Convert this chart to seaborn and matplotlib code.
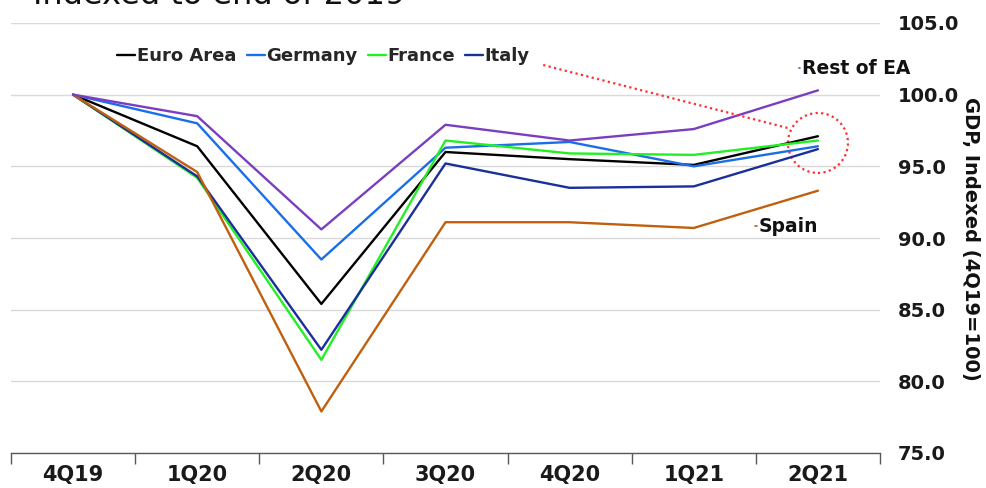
import pandas as pd
import numpy as np
import matplotlib
matplotlib.use("Agg")
import matplotlib.pyplot as plt
from matplotlib.patches import Ellipse
import seaborn as sns

# quarters on the x axis
quarters = ["4Q19", "1Q20", "2Q20", "3Q20", "4Q20", "1Q21", "2Q21"]

# GDP indexed to 4Q19 = 100
euro_area = [100.0, 96.4, 85.4, 96.0, 95.5, 95.1, 97.1]
germany = [100.0, 98.0, 88.5, 96.3, 96.7, 95.0, 96.4]
france = [100.0, 94.2, 81.5, 96.8, 95.9, 95.8, 96.8]
italy = [100.0, 94.3, 82.2, 95.2, 93.5, 93.6, 96.2]
spain = [100.0, 94.6, 77.9, 91.1, 91.1, 90.7, 93.3]
rest_of_ea = [100.0, 98.5, 90.6, 97.9, 96.8, 97.6, 100.3]

series = {
    "Euro Area": euro_area,
    "Germany": germany,
    "France": france,
    "Italy": italy,
    "Spain": spain,
    "Rest of EA": rest_of_ea,
}
colors = {
    "Euro Area": "#000000",
    "Germany": "#1a6ee8",
    "France": "#22f022",
    "Italy": "#1a2f9a",
    "Spain": "#c0600f",
    "Rest of EA": "#7a3fc0",
}

rows = []
for name, vals in series.items():
    for i, v in enumerate(vals):
        rows.append({"quarter": quarters[i], "pos": i, "series": name, "value": v})
df = pd.DataFrame(rows)

sns.set_theme(style="white")
plt.rcParams["font.family"] = ["DejaVu Sans"]

fig = plt.figure(figsize=(9.86, 4.88), dpi=100)
ax = fig.add_axes([11 / 986, 35 / 488, 869 / 986, 430 / 488])

sns.lineplot(data=df, x="pos", y="value", hue="series", palette=colors,
             hue_order=list(series.keys()), linewidth=1.7, ax=ax, legend=True)

ax.set_xlim(-0.5, len(quarters) - 0.5)
ax.set_ylim(75, 105)
ax.set_yticks(np.arange(75, 105.1, 5))
ax.set_yticklabels([f"{t:.1f}" for t in np.arange(75, 105.1, 5)])
ax.set_xticks(range(len(quarters)))
ax.set_xticklabels(quarters)
ax.set_xticks(np.arange(-0.5, len(quarters)), minor=True)

ax.yaxis.tick_right()
ax.yaxis.set_label_position("right")
ax.grid(axis="y", color="#d9d9d9", linewidth=1)
ax.set_axisbelow(True)

for s in ["left", "right", "top"]:
    ax.spines[s].set_visible(False)
ax.spines["bottom"].set_color("#595959")
ax.spines["bottom"].set_linewidth(1)

ax.tick_params(axis="x", which="major", bottom=True, length=0, pad=9, labelsize=15)
ax.tick_params(axis="x", which="minor", bottom=True, length=8, width=1,
               color="#595959", direction="out")
ax.tick_params(axis="y", length=0, pad=13, labelsize=14)
for lab in ax.get_xticklabels() + ax.get_yticklabels():
    lab.set_fontweight("bold")
    lab.set_color("#1a1a1a")

ax.set_xlabel("")
ax.set_ylabel("GDP, Indexed (4Q19=100)", fontsize=14, fontweight="bold",
              rotation=270, va="center", color="#111111")
ax.yaxis.set_label_coords(1.104, 0.498)

# legend only for the four main series
handles, labels = ax.get_legend_handles_labels()
keep = [i for i, l in enumerate(labels) if l in ["Euro Area", "Germany", "France", "Italy"]]
ax.legend([handles[i] for i in keep], [labels[i] for i in keep], ncol=4,
          loc="center left", bbox_to_anchor=(0.112, 0.923), frameon=False,
          handlelength=1.0, handletextpad=0.1, columnspacing=0.55, borderpad=0,
          prop={"weight": "bold", "size": 13})

# direct labels
ax.text(5.87, 101.86, "Rest of EA", fontsize=13.5, fontweight="bold",
        va="center", ha="left", color="#111111")
ax.plot([5.845, 5.855], [101.86, 101.86], color=colors["Rest of EA"], lw=1.2)
ax.text(5.52, 90.83, "Spain", fontsize=13.5, fontweight="bold",
        va="center", ha="left", color="#111111")
ax.plot([5.49, 5.51], [90.83, 90.83], color=colors["Spain"], lw=1.2)

# red dotted callout
ax.add_patch(Ellipse((6.0, 96.63), 60 / 124.1, 60 / 14.33, fill=False,
                     edgecolor="#ff3030", linestyle=(0, (1, 1.5)), linewidth=1.6,
                     clip_on=False))
ax.plot([3.787, 5.76], [102.07, 97.67], color="#ff3030", linestyle=(0, (1, 1.5)),
        linewidth=1.6)

# title is cropped at the top edge, as in the source
fig.text(33 / 986, 1 - 4 / 488, "Indexed to end of 2019", fontsize=23,
         va="baseline", ha="left", color="#111111")

fig.savefig("out.png", dpi=100)
